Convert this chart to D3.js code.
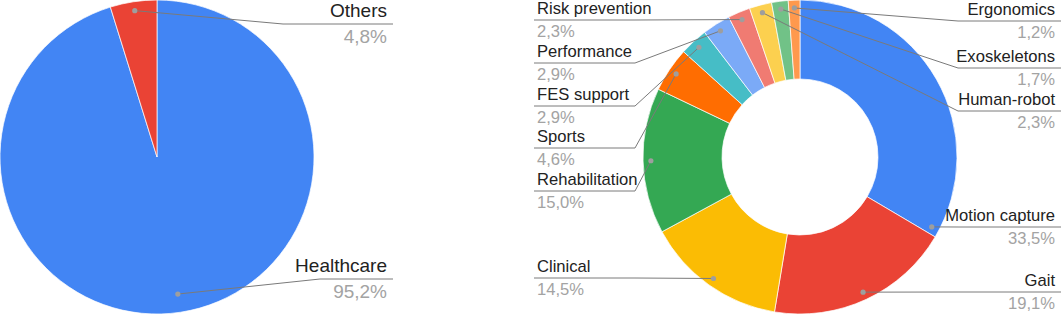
<!DOCTYPE html>
<html lang="en">
<head>
    <meta charset="UTF-8">
    <title>Application areas</title>
    <script src="https://d3js.org/d3.v7.min.js"></script>
    <style>
        body{ margin:0; background:white; }
        svg{ display:block; }
        text{ font-family:"Liberation Sans", Arial, sans-serif; }
    </style>
</head>
<body>
    <script>
        // left pie
        const pieCategories = ["Healthcare","Others"];
        const pieValues = [95.2,4.8];
        const pieColors = ["#4285f4","#ea4335"];

        // right donut
        const donutCategories = ["Motion capture","Gait","Clinical","Rehabilitation","Sports","FES support",
            "Performance","Risk prevention","Human-robot","Exoskeletons","Ergonomics"];
        const donutValues = [33.5,19.1,14.5,15.0,4.6,2.9,2.9,2.3,2.3,1.7,1.2];
        const donutColors = ["#4285f4","#ea4335","#fbbc04","#34a853","#ff6d01","#46bdc6",
            "#7baaf7","#f07b72","#fcd04f","#71c287","#ff994d"];

        const w = 1061, h = 314;
        const svg = d3.select("body").append("svg").attr("width",w).attr("height",h);

        const fmt = v => v.toFixed(1).replace(".",",") + "%";

        // label layout (line y, elbow, dot placement inside slice)
        const pieLabels = {
            "Healthcare": {side:"right", y:279, elbow:320, end:393, textX:387, dotR:0.883, dotT:0.5},
            "Others": {side:"right", y:24, elbow:283, end:393, textX:387, dotR:0.943, dotT:0.5}
        };
        const donutLabels = {
            "Motion capture": {side:"right", y:227, dotT:0.978},
            "Gait": {side:"right", y:292},
            "Clinical": {side:"left", y:278},
            "Rehabilitation": {side:"left", y:191},
            "Sports": {side:"left", y:148},
            "FES support": {side:"left", y:106},
            "Performance": {side:"left", y:63},
            "Risk prevention": {side:"left", y:20},
            "Human-robot": {side:"right", y:111},
            "Exoskeletons": {side:"right", y:68},
            "Ergonomics": {side:"right", y:21}
        };

        function drawPie(opts){
            const data = opts.categories.map((c,i) => ({name:c, value:opts.values[i], color:opts.colors[i]}));
            const arcs = d3.pie().sort(null).value(d => d.value)(data);
            const arc = d3.arc().innerRadius(opts.inner).outerRadius(opts.r);
            const g = svg.append("g").attr("transform","translate("+opts.cx+","+opts.cy+")");

            g.selectAll("path.slice")
                .data(arcs)
                .enter()
                .append("path")
                .attr("class","slice")
                .attr("d",arc)
                .attr("fill",d => d.data.color)
                .attr("stroke","white")
                .attr("stroke-width",0.7);

            const lg = svg.append("g");
            arcs.forEach(a => {
                const L = opts.layout[a.data.name];
                const t = L.dotT === undefined ? 0.5 : L.dotT;
                const ang = a.startAngle + (a.endAngle - a.startAngle)*t;
                const p = d3.pointRadial(ang, opts.r*(L.dotR || opts.dotR));
                const dot = [opts.cx + p[0], opts.cy + p[1]];
                const elbow = L.elbow !== undefined ? L.elbow : (L.side === "right" ? opts.rightElbow : opts.leftElbow);
                const end = L.end !== undefined ? L.end : (L.side === "right" ? opts.rightEnd : opts.leftEnd);
                const textX = L.textX !== undefined ? L.textX : (L.side === "right" ? opts.rightText : opts.leftText);
                const anchor = L.side === "right" ? "end" : "start";

                lg.append("path")
                    .attr("d", d3.line()([dot,[elbow,L.y],[end,L.y]]))
                    .attr("fill","none")
                    .attr("stroke","#7a7a7a")
                    .attr("stroke-width",1);
                lg.append("circle")
                    .attr("cx",dot[0]).attr("cy",dot[1]).attr("r",2.6)
                    .attr("fill","#9e9e9e");
                lg.append("text")
                    .attr("x",textX).attr("y",L.y - opts.nameGap)
                    .attr("text-anchor",anchor)
                    .attr("font-size",opts.fontSize)
                    .attr("fill","#222")
                    .text(a.data.name);
                lg.append("text")
                    .attr("x",textX).attr("y",L.y + opts.pctGap)
                    .attr("text-anchor",anchor)
                    .attr("font-size",opts.fontSize)
                    .attr("fill","#a3a3a3")
                    .text(fmt(a.data.value));
            });
        }

        drawPie({
            categories:pieCategories, values:pieValues, colors:pieColors,
            cx:157, cy:157, r:157, inner:0, dotR:0.94,
            layout:pieLabels, fontSize:19, nameGap:7, pctGap:19
        });

        drawPie({
            categories:donutCategories, values:donutValues, colors:donutColors,
            cx:800, cy:157, r:157, inner:78, dotR:0.95,
            layout:donutLabels, fontSize:16.6, nameGap:6, pctGap:17,
            leftElbow:635, leftEnd:534, leftText:537,
            rightElbow:958, rightEnd:1061, rightText:1055
        });
    </script>
</body>
</html>
